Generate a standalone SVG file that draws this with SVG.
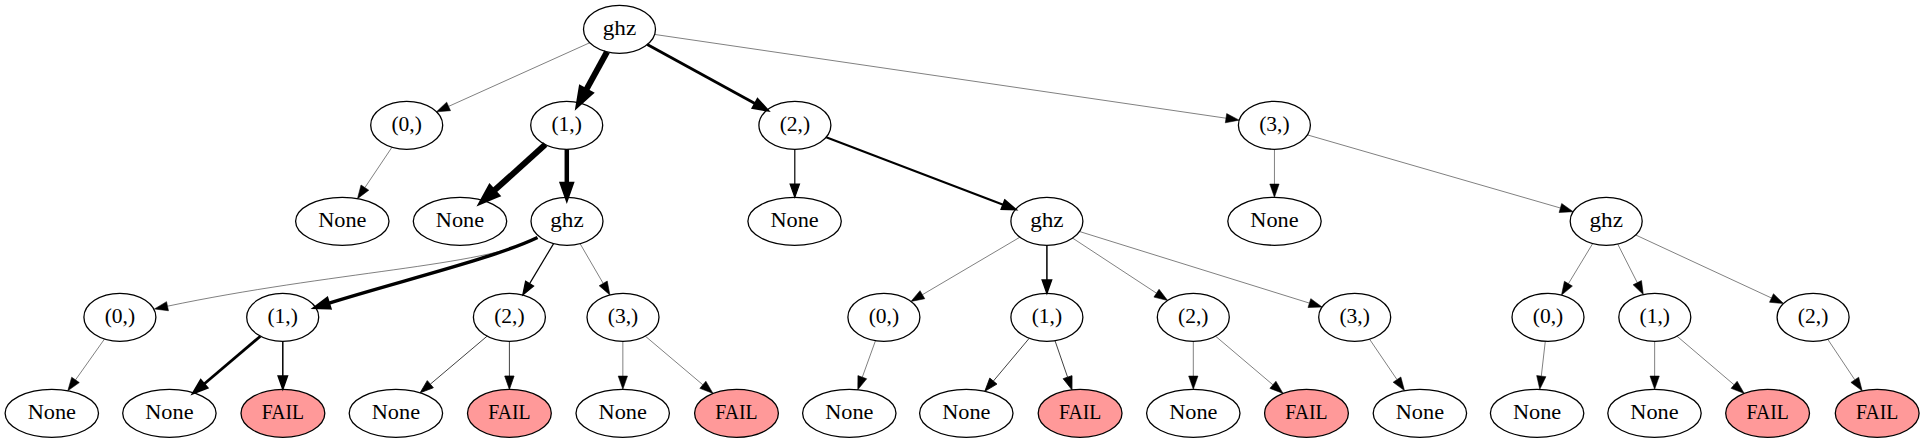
<svg xmlns="http://www.w3.org/2000/svg" width="1925" height="443" viewBox="0 0 1925 443">
<style>
.node ellipse{fill:#fff;stroke:#000;stroke-width:1.3}
.node.fail ellipse{fill:#ff9999}
.node text{font-family:"Liberation Serif","Times New Roman",serif;font-size:20px;text-anchor:middle;fill:#000}
#edges path{fill:none;stroke:#000;stroke-linecap:butt}
.t0{stroke-width:0.5;marker-end:url(#m0)}
.t1{stroke-width:0.75;marker-end:url(#m1)}
.t2{stroke-width:1.2;marker-end:url(#m2)}
.t3{stroke-width:1.5;marker-end:url(#m3)}
.t4{stroke-width:2;marker-end:url(#m4)}
.t5{stroke-width:2.8;marker-end:url(#m5)}
.t6{stroke-width:3.5;marker-end:url(#m6)}
.t7{stroke-width:4.5;marker-end:url(#m7)}
.t8{stroke-width:6;marker-end:url(#m8)}
marker path{fill:#000;stroke:#000;stroke-linejoin:miter}
</style>
<defs>
<marker id="m0" markerUnits="userSpaceOnUse" orient="auto" overflow="visible" markerWidth="1" markerHeight="1" refX="0" refY="0"><path d="M0,-4.67L13.3,0L0,4.67Z" stroke-width="0.5"/></marker>
<marker id="m1" markerUnits="userSpaceOnUse" orient="auto" overflow="visible" markerWidth="1" markerHeight="1" refX="0" refY="0"><path d="M0,-4.67L13.3,0L0,4.67Z" stroke-width="0.75"/></marker>
<marker id="m2" markerUnits="userSpaceOnUse" orient="auto" overflow="visible" markerWidth="1" markerHeight="1" refX="0" refY="0"><path d="M0,-4.67L13.3,0L0,4.67Z" stroke-width="1.2"/></marker>
<marker id="m3" markerUnits="userSpaceOnUse" orient="auto" overflow="visible" markerWidth="1" markerHeight="1" refX="0" refY="0"><path d="M0,-4.67L13.3,0L0,4.67Z" stroke-width="1.5"/></marker>
<marker id="m4" markerUnits="userSpaceOnUse" orient="auto" overflow="visible" markerWidth="1" markerHeight="1" refX="0" refY="0"><path d="M0,-4.67L13.3,0L0,4.67Z" stroke-width="2"/></marker>
<marker id="m5" markerUnits="userSpaceOnUse" orient="auto" overflow="visible" markerWidth="1" markerHeight="1" refX="0" refY="0"><path d="M0,-4.67L13.3,0L0,4.67Z" stroke-width="2.8"/></marker>
<marker id="m6" markerUnits="userSpaceOnUse" orient="auto" overflow="visible" markerWidth="1" markerHeight="1" refX="0" refY="0"><path d="M0,-4.67L13.3,0L0,4.67Z" stroke-width="3.5"/></marker>
<marker id="m7" markerUnits="userSpaceOnUse" orient="auto" overflow="visible" markerWidth="1" markerHeight="1" refX="0" refY="0"><path d="M0,-4.67L13.3,0L0,4.67Z" stroke-width="4.5"/></marker>
<marker id="m8" markerUnits="userSpaceOnUse" orient="auto" overflow="visible" markerWidth="1" markerHeight="1" refX="0" refY="0"><path d="M0,-4.67L13.3,0L0,4.67Z" stroke-width="6"/></marker>
</defs>
<rect width="1925" height="443" fill="#fff"/>

<g id="nodes">
<g id="n0" class="node"><ellipse cx="619.5" cy="29.3" rx="36" ry="24"/><text x="619.5" y="34.7" textLength="33.5" lengthAdjust="spacingAndGlyphs">ghz</text></g>
<g id="n1" class="node"><ellipse cx="406.7" cy="125.3" rx="36" ry="24"/><text x="406.7" y="130.7" textLength="30.5" lengthAdjust="spacingAndGlyphs">(0,)</text></g>
<g id="n2" class="node"><ellipse cx="566.7" cy="125.3" rx="36" ry="24"/><text x="566.7" y="130.7" textLength="30.5" lengthAdjust="spacingAndGlyphs">(1,)</text></g>
<g id="n3" class="node"><ellipse cx="794.9" cy="125.3" rx="36" ry="24"/><text x="794.9" y="130.7" textLength="30.5" lengthAdjust="spacingAndGlyphs">(2,)</text></g>
<g id="n4" class="node"><ellipse cx="1274.4" cy="125.3" rx="36" ry="24"/><text x="1274.4" y="130.7" textLength="30.5" lengthAdjust="spacingAndGlyphs">(3,)</text></g>

<g id="n5" class="node"><ellipse cx="342.3" cy="221.3" rx="46.7" ry="24"/><text x="342.3" y="226.7" textLength="48.3" lengthAdjust="spacingAndGlyphs">None</text></g>
<g id="n6" class="node"><ellipse cx="460" cy="221.3" rx="46.7" ry="24"/><text x="460" y="226.7" textLength="48.3" lengthAdjust="spacingAndGlyphs">None</text></g>
<g id="n7" class="node"><ellipse cx="567" cy="221.3" rx="36" ry="24"/><text x="567" y="226.7" textLength="33.5" lengthAdjust="spacingAndGlyphs">ghz</text></g>
<g id="n8" class="node"><ellipse cx="794.6" cy="221.3" rx="46.7" ry="24"/><text x="794.6" y="226.7" textLength="48.3" lengthAdjust="spacingAndGlyphs">None</text></g>
<g id="n9" class="node"><ellipse cx="1046.9" cy="221.3" rx="36" ry="24"/><text x="1046.9" y="226.7" textLength="33.5" lengthAdjust="spacingAndGlyphs">ghz</text></g>
<g id="n10" class="node"><ellipse cx="1274.5" cy="221.3" rx="46.7" ry="24"/><text x="1274.5" y="226.7" textLength="48.3" lengthAdjust="spacingAndGlyphs">None</text></g>
<g id="n11" class="node"><ellipse cx="1606.2" cy="221.3" rx="36" ry="24"/><text x="1606.2" y="226.7" textLength="33.5" lengthAdjust="spacingAndGlyphs">ghz</text></g>

<g id="n12" class="node"><ellipse cx="119.9" cy="317.3" rx="36" ry="24"/><text x="119.9" y="322.7" textLength="30.5" lengthAdjust="spacingAndGlyphs">(0,)</text></g>
<g id="n13" class="node"><ellipse cx="282.7" cy="317.3" rx="36" ry="24"/><text x="282.7" y="322.7" textLength="30.5" lengthAdjust="spacingAndGlyphs">(1,)</text></g>
<g id="n14" class="node"><ellipse cx="509.4" cy="317.3" rx="36" ry="24"/><text x="509.4" y="322.7" textLength="30.5" lengthAdjust="spacingAndGlyphs">(2,)</text></g>
<g id="n15" class="node"><ellipse cx="623" cy="317.3" rx="36" ry="24"/><text x="623" y="322.7" textLength="30.5" lengthAdjust="spacingAndGlyphs">(3,)</text></g>
<g id="n16" class="node"><ellipse cx="883.9" cy="317.3" rx="36" ry="24"/><text x="883.9" y="322.7" textLength="30.5" lengthAdjust="spacingAndGlyphs">(0,)</text></g>
<g id="n17" class="node"><ellipse cx="1046.9" cy="317.3" rx="36" ry="24"/><text x="1046.9" y="322.7" textLength="30.5" lengthAdjust="spacingAndGlyphs">(1,)</text></g>
<g id="n18" class="node"><ellipse cx="1193.3" cy="317.3" rx="36" ry="24"/><text x="1193.3" y="322.7" textLength="30.5" lengthAdjust="spacingAndGlyphs">(2,)</text></g>
<g id="n19" class="node"><ellipse cx="1354.7" cy="317.3" rx="36" ry="24"/><text x="1354.7" y="322.7" textLength="30.5" lengthAdjust="spacingAndGlyphs">(3,)</text></g>
<g id="n20" class="node"><ellipse cx="1548" cy="317.3" rx="36" ry="24"/><text x="1548" y="322.7" textLength="30.5" lengthAdjust="spacingAndGlyphs">(0,)</text></g>
<g id="n21" class="node"><ellipse cx="1654.8" cy="317.3" rx="36" ry="24"/><text x="1654.8" y="322.7" textLength="30.5" lengthAdjust="spacingAndGlyphs">(1,)</text></g>
<g id="n22" class="node"><ellipse cx="1813.1" cy="317.3" rx="36" ry="24"/><text x="1813.1" y="322.7" textLength="30.5" lengthAdjust="spacingAndGlyphs">(2,)</text></g>

<g id="n23" class="node"><ellipse cx="51.8" cy="413.3" rx="46.7" ry="24"/><text x="51.8" y="418.7" textLength="48.3" lengthAdjust="spacingAndGlyphs">None</text></g>
<g id="n24" class="node"><ellipse cx="169.4" cy="413.3" rx="46.7" ry="24"/><text x="169.4" y="418.7" textLength="48.3" lengthAdjust="spacingAndGlyphs">None</text></g>
<g id="n25" class="node fail"><ellipse cx="282.9" cy="413.3" rx="41.9" ry="24"/><text x="282.9" y="418.7" textLength="42.3" lengthAdjust="spacingAndGlyphs">FAIL</text></g>
<g id="n26" class="node"><ellipse cx="395.9" cy="413.3" rx="46.7" ry="24"/><text x="395.9" y="418.7" textLength="48.3" lengthAdjust="spacingAndGlyphs">None</text></g>
<g id="n27" class="node fail"><ellipse cx="509.4" cy="413.3" rx="41.9" ry="24"/><text x="509.4" y="418.7" textLength="42.3" lengthAdjust="spacingAndGlyphs">FAIL</text></g>
<g id="n28" class="node"><ellipse cx="622.7" cy="413.3" rx="46.7" ry="24"/><text x="622.7" y="418.7" textLength="48.3" lengthAdjust="spacingAndGlyphs">None</text></g>
<g id="n29" class="node fail"><ellipse cx="736.5" cy="413.3" rx="41.9" ry="24"/><text x="736.5" y="418.7" textLength="42.3" lengthAdjust="spacingAndGlyphs">FAIL</text></g>
<g id="n30" class="node"><ellipse cx="849.3" cy="413.3" rx="46.7" ry="24"/><text x="849.3" y="418.7" textLength="48.3" lengthAdjust="spacingAndGlyphs">None</text></g>
<g id="n31" class="node"><ellipse cx="966.3" cy="413.3" rx="46.7" ry="24"/><text x="966.3" y="418.7" textLength="48.3" lengthAdjust="spacingAndGlyphs">None</text></g>
<g id="n32" class="node fail"><ellipse cx="1080.1" cy="413.3" rx="41.9" ry="24"/><text x="1080.1" y="418.7" textLength="42.3" lengthAdjust="spacingAndGlyphs">FAIL</text></g>
<g id="n33" class="node"><ellipse cx="1193.3" cy="413.3" rx="46.7" ry="24"/><text x="1193.3" y="418.7" textLength="48.3" lengthAdjust="spacingAndGlyphs">None</text></g>
<g id="n34" class="node fail"><ellipse cx="1306.5" cy="413.3" rx="41.9" ry="24"/><text x="1306.5" y="418.7" textLength="42.3" lengthAdjust="spacingAndGlyphs">FAIL</text></g>
<g id="n35" class="node"><ellipse cx="1419.9" cy="413.3" rx="46.7" ry="24"/><text x="1419.9" y="418.7" textLength="48.3" lengthAdjust="spacingAndGlyphs">None</text></g>
<g id="n36" class="node"><ellipse cx="1537.1" cy="413.3" rx="46.7" ry="24"/><text x="1537.1" y="418.7" textLength="48.3" lengthAdjust="spacingAndGlyphs">None</text></g>
<g id="n37" class="node"><ellipse cx="1654.5" cy="413.3" rx="46.7" ry="24"/><text x="1654.5" y="418.7" textLength="48.3" lengthAdjust="spacingAndGlyphs">None</text></g>
<g id="n38" class="node fail"><ellipse cx="1767.6" cy="413.3" rx="41.9" ry="24"/><text x="1767.6" y="418.7" textLength="42.3" lengthAdjust="spacingAndGlyphs">FAIL</text></g>
<g id="n39" class="node fail"><ellipse cx="1877.2" cy="413.3" rx="41.9" ry="24"/><text x="1877.2" y="418.7" textLength="42.3" lengthAdjust="spacingAndGlyphs">FAIL</text></g>
</g>

<g id="edges">
<path class="t0" d="M589.7,42.75L448.6,106.4"/>
<path class="t8" d="M607.1,51.8L585.5,91.1"/>
<path class="t5" d="M647.3,44.5L755.4,103.7"/>
<path class="t0" d="M654.7,34.45L1226,118.2"/>
<path class="t0" d="M392,147.2L364.9,187.6"/>
<path class="t8" d="M545.3,144.6L493.1,191.6"/>
<path class="t7" d="M566.8,149.3L566.8,184"/>
<path class="t2" d="M794.8,149.3L794.8,184"/>
<path class="t4" d="M826.2,137.2L1003.2,204.7"/>
<path class="t0" d="M1274.45,149.3L1274.45,184"/>
<path class="t0" d="M1307.4,134.9L1560.4,208"/>
<path class="t0" d="M536.5,238.5C485,266 330,272 167.5,306.2"/>
<path class="t6" d="M537.5,237.5C495,258 400,281 328.3,303.4"/>
<path class="t2" d="M553.6,243.6L529.6,283.6"/>
<path class="t0" d="M580.1,243.7L603.2,283.4"/>
<path class="t0" d="M1019.9,237.2L922.4,294.7"/>
<path class="t3" d="M1046.9,245.3L1046.9,280"/>
<path class="t0" d="M1072.6,238.1L1156.5,293.2"/>
<path class="t0" d="M1079.5,231.5L1309.4,303.1"/>
<path class="t0" d="M1592.7,243.55L1568.4,283.7"/>
<path class="t0" d="M1617.7,244L1637.3,282.7"/>
<path class="t0" d="M1635.75,235L1771.5,298"/>
<path class="t0" d="M104.5,339L75.5,379.9"/>
<path class="t5" d="M260.4,336.2L203.8,384.2"/>
<path class="t3" d="M282.8,341.3L282.8,376"/>
<path class="t1" d="M487.1,336.15L430.3,384.2"/>
<path class="t1" d="M509.4,341.3L509.4,376"/>
<path class="t0" d="M622.85,341.3L622.85,376"/>
<path class="t0" d="M645.3,336.15L702.85,384.8"/>
<path class="t0" d="M875.5,340.6L862.3,377.2"/>
<path class="t1" d="M1029.3,338.2L993.35,381.1"/>
<path class="t1" d="M1055,340.7L1067.6,377.2"/>
<path class="t0" d="M1193.3,341.3L1193.3,376"/>
<path class="t0" d="M1215.55,336.2L1272.9,384.8"/>
<path class="t0" d="M1369.55,339.2L1397,379.6"/>
<path class="t0" d="M1545.3,341.2L1541.3,376.1"/>
<path class="t0" d="M1654.65,341.3L1654.65,376"/>
<path class="t0" d="M1677,336.2L1734.1,384.8"/>
<path class="t0" d="M1827.7,339.2L1854.8,379.8"/>
</g>
</svg>
